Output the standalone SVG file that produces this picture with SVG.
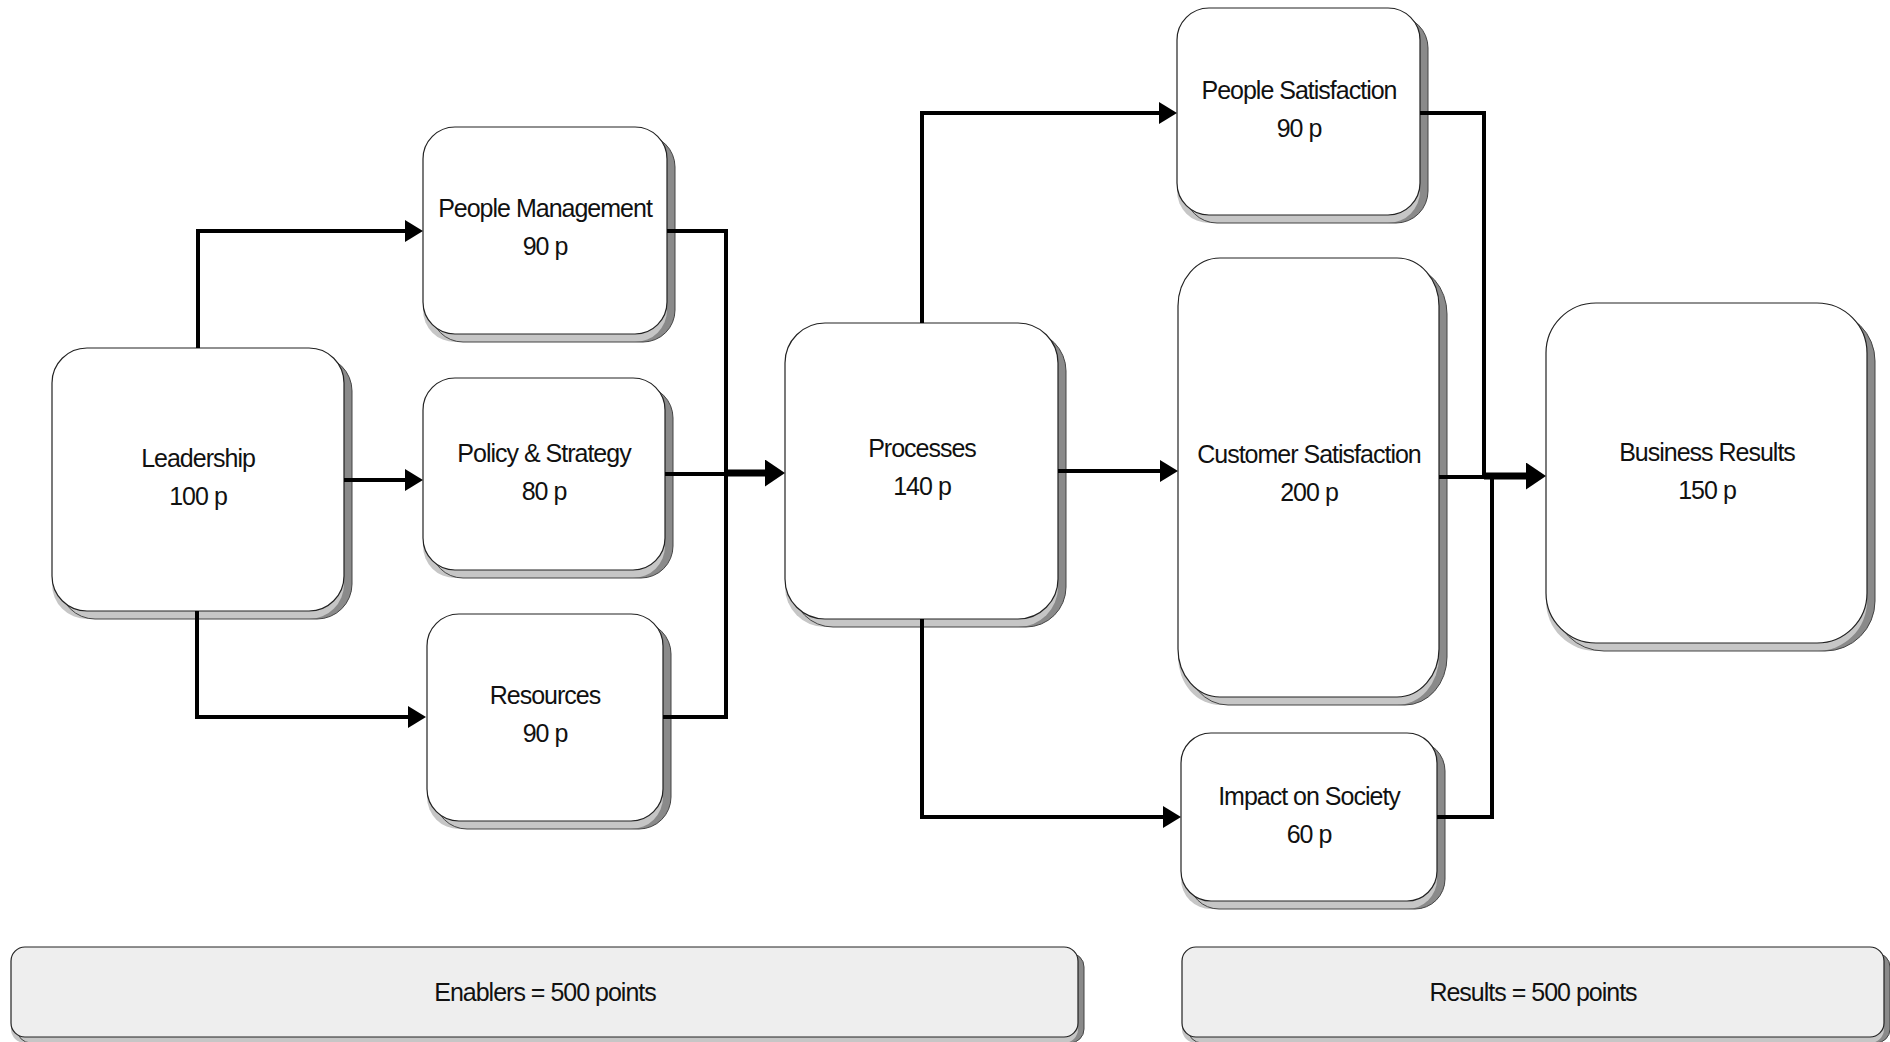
<svg xmlns="http://www.w3.org/2000/svg" width="1890" height="1042" viewBox="0 0 1890 1042">
  <style>
    .face { fill: #ffffff; stroke: #222222; stroke-width: 1.2; }
    .bar { fill: #eeeeee; stroke: #222222; stroke-width: 1.2; }
    .side { fill: #8a8a8a; stroke: none; }
    .under { fill: #c6c6c6; stroke: none; }
    .edge { fill: none; stroke: #444444; stroke-width: 1; }
    .lbl { font-family: "Liberation Sans", Arial, sans-serif; font-size: 25px; letter-spacing: -1px; fill: #111111; text-anchor: middle; }
    .wire { fill: none; stroke: #000000; stroke-width: 4; stroke-linejoin: miter; stroke-linecap: butt; }
    .trunk { fill: none; stroke: #000000; stroke-width: 7; stroke-linecap: butt; }
  </style>
  <defs>
    <marker id="arrow" markerUnits="userSpaceOnUse" markerWidth="18" markerHeight="22" refX="8" refY="11" orient="auto">
      <path d="M0,0 L18,11 L0,22 Z" fill="#000000"/>
    </marker>
    <marker id="arrowBold" markerUnits="userSpaceOnUse" markerWidth="20" markerHeight="27" refX="8" refY="13.5" orient="auto">
      <path d="M0,0 L20,13.5 L0,27 Z" fill="#000000"/>
    </marker>
  </defs>

  <rect width="1890" height="1042" fill="#ffffff"/>

  <!-- nodes: side face, under face, outline, front face, label -->
  <g id="leadership">
    <rect class="side" x="60" y="356" width="292" height="263" rx="35"/>
    <rect class="under" x="52" y="356" width="292" height="263" rx="35"/>
    <rect class="edge" x="60" y="356" width="292" height="263" rx="35"/>
    <rect class="face" x="52" y="348" width="292" height="263" rx="35"/>
    <text class="lbl" x="198" y="467">Leadership</text>
    <text class="lbl" x="198" y="505">100 p</text>
  </g>

  <g id="people-management">
    <rect class="side" x="431" y="135" width="244" height="207" rx="32"/>
    <rect class="under" x="423" y="135" width="244" height="207" rx="32"/>
    <rect class="edge" x="431" y="135" width="244" height="207" rx="32"/>
    <rect class="face" x="423" y="127" width="244" height="207" rx="32"/>
    <text class="lbl" x="545" y="217">People Management</text>
    <text class="lbl" x="545" y="255">90 p</text>
  </g>

  <g id="policy-strategy">
    <rect class="side" x="431" y="386" width="242" height="192" rx="32"/>
    <rect class="under" x="423" y="386" width="242" height="192" rx="32"/>
    <rect class="edge" x="431" y="386" width="242" height="192" rx="32"/>
    <rect class="face" x="423" y="378" width="242" height="192" rx="32"/>
    <text class="lbl" x="544" y="462">Policy &amp; Strategy</text>
    <text class="lbl" x="544" y="500">80 p</text>
  </g>

  <g id="resources">
    <rect class="side" x="435" y="622" width="236" height="207" rx="32"/>
    <rect class="under" x="427" y="622" width="236" height="207" rx="32"/>
    <rect class="edge" x="435" y="622" width="236" height="207" rx="32"/>
    <rect class="face" x="427" y="614" width="236" height="207" rx="32"/>
    <text class="lbl" x="545" y="704">Resources</text>
    <text class="lbl" x="545" y="742">90 p</text>
  </g>

  <g id="processes">
    <rect class="side" x="793" y="331" width="273" height="296" rx="40"/>
    <rect class="under" x="785" y="331" width="273" height="296" rx="40"/>
    <rect class="edge" x="793" y="331" width="273" height="296" rx="40"/>
    <rect class="face" x="785" y="323" width="273" height="296" rx="40"/>
    <text class="lbl" x="922" y="457">Processes</text>
    <text class="lbl" x="922" y="495">140 p</text>
  </g>

  <g id="people-satisfaction">
    <rect class="side" x="1185" y="16" width="243" height="207" rx="32"/>
    <rect class="under" x="1177" y="16" width="243" height="207" rx="32"/>
    <rect class="edge" x="1185" y="16" width="243" height="207" rx="32"/>
    <rect class="face" x="1177" y="8" width="243" height="207" rx="32"/>
    <text class="lbl" x="1299" y="99">People Satisfaction</text>
    <text class="lbl" x="1299" y="137">90 p</text>
  </g>

  <g id="customer-satisfaction">
    <rect class="side" x="1186" y="266" width="261" height="439" rx="42" ry="48"/>
    <rect class="under" x="1178" y="266" width="261" height="439" rx="42" ry="48"/>
    <rect class="edge" x="1186" y="266" width="261" height="439" rx="42" ry="48"/>
    <rect class="face" x="1178" y="258" width="261" height="439" rx="42" ry="48"/>
    <text class="lbl" x="1309" y="463">Customer Satisfaction</text>
    <text class="lbl" x="1309" y="501">200 p</text>
  </g>

  <g id="impact-on-society">
    <rect class="side" x="1189" y="741" width="256" height="168" rx="30"/>
    <rect class="under" x="1181" y="741" width="256" height="168" rx="30"/>
    <rect class="edge" x="1189" y="741" width="256" height="168" rx="30"/>
    <rect class="face" x="1181" y="733" width="256" height="168" rx="30"/>
    <text class="lbl" x="1309" y="805">Impact on Society</text>
    <text class="lbl" x="1309" y="843">60 p</text>
  </g>

  <g id="business-results">
    <rect class="side" x="1554" y="311" width="321" height="340" rx="50"/>
    <rect class="under" x="1546" y="311" width="321" height="340" rx="50"/>
    <rect class="edge" x="1554" y="311" width="321" height="340" rx="50"/>
    <rect class="face" x="1546" y="303" width="321" height="340" rx="50"/>
    <text class="lbl" x="1707" y="461">Business Results</text>
    <text class="lbl" x="1707" y="499">150 p</text>
  </g>

  <!-- connectors, drawn over the box extrusions -->
  <g id="connectors">
    <path class="wire" d="M198,348 V231 H413" marker-end="url(#arrow)"/>
    <path class="wire" d="M344,480 H413" marker-end="url(#arrow)"/>
    <path class="wire" d="M197,611 V717 H416" marker-end="url(#arrow)"/>
    <path class="wire" d="M667,231 H726 V717 H663"/>
    <path class="wire" d="M665,474 H726"/>
    <path class="trunk" d="M726,473 H773" marker-end="url(#arrowBold)"/>
    <path class="wire" d="M922,323 V113 H1167" marker-end="url(#arrow)"/>
    <path class="wire" d="M1058,471 H1168" marker-end="url(#arrow)"/>
    <path class="wire" d="M922,619 V817 H1171" marker-end="url(#arrow)"/>
    <path class="wire" d="M1420,113 H1484 V476"/>
    <path class="wire" d="M1439,477 H1484"/>
    <path class="wire" d="M1437,817 H1492 V477"/>
    <path class="trunk" d="M1484,476 H1534" marker-end="url(#arrowBold)"/>
  </g>

  <!-- summary bars -->
  <g id="enablers-total">
    <rect class="side" x="17" y="953" width="1067" height="90" rx="14"/>
    <rect class="under" x="11" y="953" width="1067" height="90" rx="14"/>
    <rect class="edge" x="17" y="953" width="1067" height="90" rx="14"/>
    <rect class="bar" x="11" y="947" width="1067" height="90" rx="14"/>
    <text class="lbl" x="545" y="1001">Enablers = 500 points</text>
  </g>

  <g id="results-total">
    <rect class="side" x="1188" y="953" width="702" height="90" rx="14"/>
    <rect class="under" x="1182" y="953" width="702" height="90" rx="14"/>
    <rect class="edge" x="1188" y="953" width="702" height="90" rx="14"/>
    <rect class="bar" x="1182" y="947" width="702" height="90" rx="14"/>
    <text class="lbl" x="1533" y="1001">Results = 500 points</text>
  </g>
</svg>
